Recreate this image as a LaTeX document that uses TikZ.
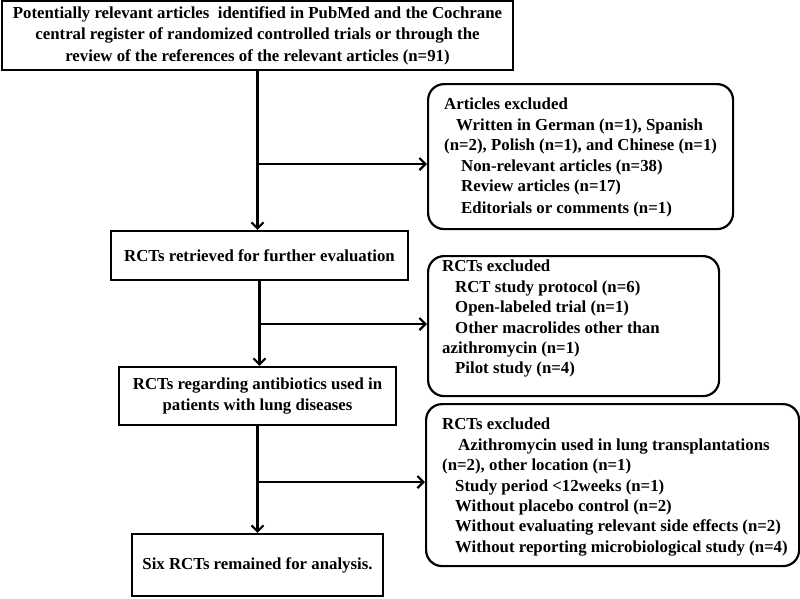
\documentclass[tikz,border=0pt]{standalone}
\usepackage{fontspec}
\setmainfont{Liberation Serif}
\usetikzlibrary{arrows.meta,positioning}

\tikzset{
  box/.style={draw, line width=2.2pt, align=center, inner sep=0pt},
  exbox/.style={draw, line width=2.2pt, rounded corners=16pt, anchor=north west, inner sep=0pt},
  extext/.style={anchor=north west, align=left, inner sep=0pt,
    font=\fontsize{16.8}{20.4}\selectfont\bfseries},
  trunk/.style={line width=2.2pt},
  flow/.style={line width=2.2pt, -{Straight Barb[length=6pt,width=12pt,line width=2.2pt]}}
}

\begin{document}
\begin{tikzpicture}[x=1pt,y=-1pt,font=\fontsize{16.8}{21.5}\selectfont\bfseries]
        \useasboundingbox (0,0) rectangle (800,598);
        % Main boxes
        \node[box, minimum width=511pt, minimum height=69pt] (found) at (257.5,35.5)
            {Potentially relevant articles\ \ identified in\ PubMed and the Cochrane\\
             central register of randomized\ controlled trials\ or through the\\
             review of the references of the relevant articles (n=91)};
        \node[box, minimum width=297pt, minimum height=49pt] (retr) at (259.5,255.5)
            {RCTs retrieved for further\ evaluation};
        \node[box, minimum width=277pt, minimum height=58pt] (lung) at (257.5,396)
            {RCTs regarding antibiotics used in\\ patients with lung diseases};
        \node[box, minimum width=251pt, minimum height=62pt] (six) at (257.5,565)
            {Six RCTs remained\ for analysis.};
        % Exclusion boxes
        \node[exbox, minimum width=305pt, minimum height=145pt] (exart) at (427,83) {};
        \node[extext] (exarttxt) at (444,98)
            {Articles\ excluded\\
             \hspace*{12pt}Written in German (n=1), Spanish\\
             (n=2), Polish (n=1), and Chinese (n=1)\\
             \hspace*{17pt}Non-relevant articles (n=38)\\
             \hspace*{17pt}Review articles (n=17)\\[2pt]
             \hspace*{17pt}Editorials\ or comments (n=1)};
        \node[exbox, minimum width=291pt, minimum height=140pt] (exrct) at (427,255) {};
        \node[extext] (exrcttxt) at (442,260)
            {RCTs excluded\\
             \hspace*{13pt}RCT study protocol (n=6)\\
             \hspace*{13pt}Open-labeled trial (n=1)\\
             \hspace*{13pt}Other macrolides other than\\
             azithromycin\ (n=1)\\
             \hspace*{13pt}Pilot study (n=4)};
        \node[exbox, minimum width=373pt, minimum height=162pt] (exlung) at (425,403) {};
        \node[extext] (exlungtxt) at (442,418)
            {RCTs excluded\\
             \hspace*{16pt}Azithromycin\ used in lung transplantations\\
             (n=2), other location (n=1)\\
             \hspace*{13pt}Study period\ <12weeks (n=1)\\
             \hspace*{13pt}Without\ placebo control (n=2)\\
             \hspace*{13pt}Without\ evaluating relevant side effects (n=2)\\
             \hspace*{13pt}Without\ reporting microbiological study (n=4)};
        % Connectors
        \coordinate (b1) at (found.south |- 0,164);
        \coordinate (b2) at (retr.south |- 0,324);
        \coordinate (b3) at (lung.south |- 0,482);
        \draw[flow] (found.south) -- (found.south |- retr.north);
        \draw[flow] (retr.south) -- (retr.south |- lung.north);
        \draw[flow] (lung.south) -- (lung.south |- six.north);
        \draw[flow] (b1) -- (b1 -| exart.west);
        \draw[flow] (b2) -- (b2 -| exrct.west);
        \draw[flow] (b3) -- (b3 -| exlung.west);
    \end{tikzpicture}
\end{document}
